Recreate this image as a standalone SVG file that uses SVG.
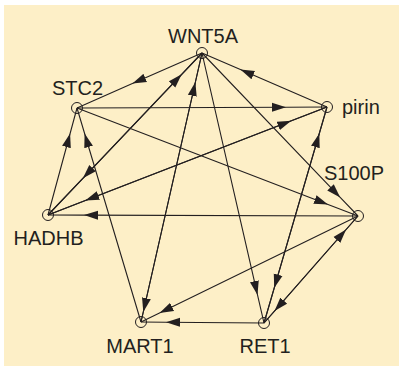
<svg xmlns="http://www.w3.org/2000/svg" width="399" height="366" viewBox="0 0 399 366">
<style>
.e{fill:none;stroke:#231f20;stroke-width:1.1;marker-mid:url(#ah)}
.n{fill:none;stroke:#231f20;stroke-width:1}
.t{font-family:"Liberation Sans",Arial,sans-serif;font-size:20px;fill:#231f20}
</style>
<defs>
<marker id="ah" markerUnits="userSpaceOnUse" markerWidth="15" markerHeight="10" refX="14" refY="4.5" orient="auto" viewBox="0 0 15 9">
<path d="M0,0 L14,4.5 L0,9 Z" fill="#231f20"/>
</marker>
</defs>
<rect x="0" y="0" width="399" height="366" fill="#ffffff"/>
<rect x="4" y="5" width="395" height="361" fill="#fdefc7"/>
<g id="connectors">
<path class="e" d="M202,53 L132.4,83.6 L77,108"/>
<path class="e" d="M48,215 L181.7,74.3 L202,53"/>
<path class="e" d="M202,53 L82.9,178.3 L48,215"/>
<path class="e" d="M141,322 L195.4,82 L202,53"/>
<path class="e" d="M202,53 L143.3,312 L141,322"/>
<path class="e" d="M327,107 L240.4,69.6 L202,53"/>
<path class="e" d="M77,108 L286,107.2 L327,107"/>
<path class="e" d="M48,215 L291.3,120.8 L327,107"/>
<path class="e" d="M327,107 L85.3,200.6 L48,215"/>
<path class="e" d="M264,323 L319.3,133.5 L327,107"/>
<path class="e" d="M327,107 L274.2,288.1 L264,323"/>
<path class="e" d="M202,53 L257.5,294.9 L264,323"/>
<path class="e" d="M358,216 L274.5,311.1 L264,323"/>
<path class="e" d="M264,323 L346.1,229.5 L358,216"/>
<path class="e" d="M264,323 L166,322.2 L141,322"/>
<path class="e" d="M358,216 L159.5,313 L141,322"/>
<path class="e" d="M202,53 L340.2,197.4 L358,216"/>
<path class="e" d="M77,108 L328,204.5 L358,216"/>
<path class="e" d="M358,216 L84,215.1 L48,215"/>
<path class="e" d="M48,215 L70.1,133.5 L77,108"/>
<path class="e" d="M141,322 L84.6,133.5 L77,108"/>
</g>
<g id="WNT5A"><circle class="n" cx="202" cy="53" r="5.5"/><text class="t" x="203" y="43" text-anchor="middle">WNT5A</text></g>
<g id="STC2"><circle class="n" cx="77" cy="108" r="5.5"/><text class="t" x="77.5" y="95" text-anchor="middle">STC2</text></g>
<g id="pirin"><circle class="n" cx="327" cy="107" r="5.5"/><text class="t" x="342" y="114">pirin</text></g>
<g id="S100P"><circle class="n" cx="358" cy="216" r="5.5"/><text class="t" x="354" y="180" text-anchor="middle">S100P</text></g>
<g id="HADHB"><circle class="n" cx="48" cy="215" r="5.5"/><text class="t" x="48.5" y="245" text-anchor="middle">HADHB</text></g>
<g id="MART1"><circle class="n" cx="141" cy="322" r="5.5"/><text class="t" x="140" y="353" text-anchor="middle">MART1</text></g>
<g id="RET1"><circle class="n" cx="264" cy="323" r="5.5"/><text class="t" x="265" y="353" text-anchor="middle">RET1</text></g>
</svg>
